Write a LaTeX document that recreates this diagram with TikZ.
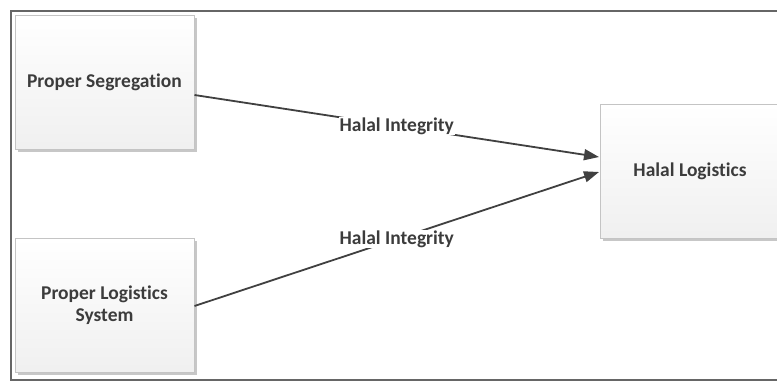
\documentclass[tikz,border=0pt]{standalone}
\usepackage{fontspec}
\setmainfont[Ligatures=NoCommon]{Carlito}
\usetikzlibrary{arrows.meta,shadows}
\definecolor{txt}{HTML}{3C3C3C}
\definecolor{boxline}{HTML}{C4C4C4}
\tikzset{
  blk/.style={draw=boxline, line width=1pt, top color=white, bottom color=black!6,
    minimum width=179pt, minimum height=134pt, inner sep=0pt, align=center,
    font=\fontsize{19.5}{22}\selectfont\bfseries, text=txt,
    drop shadow={shadow xshift=2.5pt, shadow yshift=-2.5pt, fill=black!22, opacity=1}},
  conn/.style={draw=black!75, line width=1.8pt, -{Triangle[length=15pt,width=11pt]}},
  lbl/.style={fill=white, inner sep=1pt, font=\fontsize{19.5}{22}\selectfont\bfseries, text=txt}
}
\begin{document}
\begin{tikzpicture}[x=1pt,y=-1pt]
\useasboundingbox (0,0) rectangle (777,383);
\clip (0,0) rectangle (777,383);
\fill[white] (0,0) rectangle (777,383);
\draw[black!60, line width=1.5pt] (11,11) rectangle (800,380);
\node[blk] (seg) at (104.5,82) {Proper Segregation};
\node[blk] (sys) at (104.5,305) {Proper Logistics\\System};
\node[blk, anchor=west] (hl) at (600,171) {Halal Logistics};
\coordinate (hl1) at (599,157);
\coordinate (hl2) at (599,172);
\draw[conn] (seg.east |- 0,95) -- node[lbl] {Halal Integrity} (hl1);
\draw[conn] (sys.east |- 0,306) -- node[lbl] {Halal Integrity} (hl2);
\end{tikzpicture}
\end{document}
